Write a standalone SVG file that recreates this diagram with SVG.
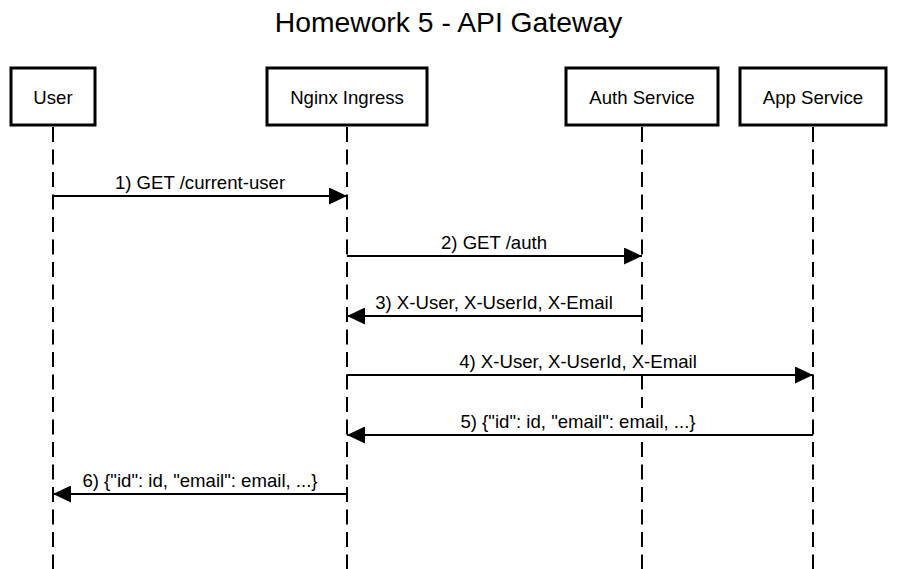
<svg xmlns="http://www.w3.org/2000/svg" width="897" height="569" viewBox="0 0 897 569">
<style>
text{font-family:"Liberation Sans",Arial,sans-serif;fill:#000}
.title{font-size:28.3px;text-anchor:middle}
.box{fill:#fff;stroke:#000;stroke-width:3}
.lbl{font-size:18.6px;text-anchor:middle}
.bg{fill:#fff;stroke:none}
.life{stroke:#000;stroke-width:2;stroke-dasharray:15 7.5;fill:none}
.msg{stroke:#000;stroke-width:2;fill:none}
</style>
<defs>
<marker id="ah" viewBox="0 0 18 17" refX="18" refY="8.5" markerWidth="18" markerHeight="17" markerUnits="userSpaceOnUse" orient="auto">
<path d="M0,0 L18,8.5 L0,17 Z" fill="#000"/>
</marker>
</defs>
<rect width="897" height="569" fill="#fff"/>
<text class="title" x="448.5" y="32">Homework 5 - API Gateway</text>
<g id="lifelines">
<line class="life" x1="53" y1="127" x2="53" y2="569"/>
<line class="life" x1="347" y1="127" x2="347" y2="569"/>
<line class="life" x1="642" y1="127" x2="642" y2="569"/>
<line class="life" x1="813" y1="127" x2="813" y2="569"/>
</g>
<g id="user"><rect class="box" x="11" y="68" width="84" height="57"/><text class="lbl" x="53" y="104">User</text></g>
<g id="nginx"><rect class="box" x="267" y="68" width="160" height="57"/><text class="lbl" x="347" y="104">Nginx Ingress</text></g>
<g id="auth"><rect class="box" x="566" y="68" width="152" height="57"/><text class="lbl" x="642" y="104">Auth Service</text></g>
<g id="app"><rect class="box" x="740" y="68" width="146" height="57"/><text class="lbl" x="813" y="104">App Service</text></g>
<g id="connectors">
<line class="msg" x1="53" y1="196" x2="347" y2="196" marker-end="url(#ah)"/>
<text class="lbl" x="200" y="189">1) GET /current-user</text>
<line class="msg" x1="347" y1="256" x2="642" y2="256" marker-end="url(#ah)"/>
<text class="lbl" x="494" y="249">2) GET /auth</text>
<line class="msg" x1="642" y1="316" x2="347" y2="316" marker-end="url(#ah)"/>
<text class="lbl" x="494" y="309">3) X-User, X-UserId, X-Email</text>
<rect class="bg" x="456" y="348" width="244" height="26"/>
<line class="msg" x1="347" y1="375" x2="813" y2="375" marker-end="url(#ah)"/>
<text class="lbl" x="578" y="368">4) X-User, X-UserId, X-Email</text>
<rect class="bg" x="456" y="408" width="244" height="26"/>
<line class="msg" x1="813" y1="435" x2="347" y2="435" marker-end="url(#ah)"/>
<text class="lbl" x="578" y="428">5) {"id": id, "email": email, ...}</text>
<line class="msg" x1="347" y1="494" x2="53" y2="494" marker-end="url(#ah)"/>
<text class="lbl" x="200" y="487">6) {"id": id, "email": email, ...}</text>
</g>
</svg>
